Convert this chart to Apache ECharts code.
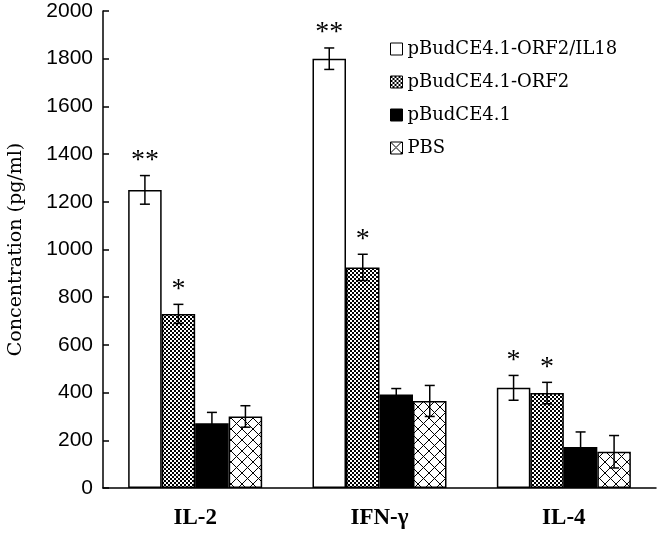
<!DOCTYPE html>
<html>
<head>
<meta charset="utf-8">
<script src="https://cdn.jsdelivr.net/npm/echarts@6/dist/echarts.min.js"></script>
<style>
html,body{margin:0;padding:0;background:#fff;}
#chart{width:660px;height:535px;}
</style>
</head>
<body>
<div id="chart"></div>
<script>
// ---- data ----
var categories = ['IL-2', 'IFN-\u03b3', 'IL-4'];
var seriesNames = ['pBudCE4.1-ORF2/IL18', 'pBudCE4.1-ORF2', 'pBudCE4.1', 'PBS'];
var valuesOrf2Il18 = [1250, 1800, 420];
var valuesOrf2 = [730, 925, 398];
var valuesVector = [272, 392, 172];
var valuesPbs = [300, 365, 152];
var errOrf2Il18 = [60, 45, 52];
var errOrf2 = [40, 55, 45];
var errVector = [45, 25, 63];
var errPbs = [45, 65, 68];
var starsOrf2Il18 = ['**', '**', '*'];
var starsOrf2 = ['*', '*', '*'];
var starsVector = ['', '', ''];
var starsPbs = ['', '', ''];
var yTicks = { min: 0, max: 2000, interval: 200 };

// ---- patterns ----
function checkerPattern() {
  var c = document.createElement('canvas');
  c.width = 4; c.height = 4;
  var g = c.getContext('2d');
  g.fillStyle = '#fff'; g.fillRect(0, 0, 4, 4);
  g.fillStyle = '#000';
  g.fillRect(0, 0, 2, 2);
  g.fillRect(2, 2, 2, 2);
  return c;
}
function crossPattern() {
  var n = 11;
  var c = document.createElement('canvas');
  c.width = n; c.height = n;
  var g = c.getContext('2d');
  g.fillStyle = '#fff'; g.fillRect(0, 0, n, n);
  g.strokeStyle = '#000'; g.lineWidth = 1;
  g.beginPath();
  g.moveTo(0, 0); g.lineTo(n, n);
  g.moveTo(n, 0); g.lineTo(0, n);
  g.stroke();
  return c;
}
var fills = [
  '#ffffff',
  { image: checkerPattern(), repeat: 'repeat' },
  '#000000',
  { image: crossPattern(), repeat: 'repeat' }
];

var allValues = [valuesOrf2Il18, valuesOrf2, valuesVector, valuesPbs];
var allErr = [errOrf2Il18, errOrf2, errVector, errPbs];
var allStars = [starsOrf2Il18, starsOrf2, starsVector, starsPbs];

var GAP = 0.273;
var errData = [];
var errStars = [];
for (var s = 0; s < 4; s++) {
  for (var c = 0; c < categories.length; c++) {
    errData.push([c, s, allValues[s][c], allErr[s][c]]);
    errStars.push(allStars[s][c]);
  }
}

var barSeries = seriesNames.map(function (name, i) {
  return {
    name: name,
    type: 'bar',
    data: allValues[i],
    barGap: '0%',
    barCategoryGap: (GAP * 100) + '%',
    itemStyle: { color: fills[i], borderColor: '#000', borderWidth: 1.5 },
    emphasis: { disabled: true },
    z: 2
  };
});

var errSeries = {
  type: 'custom',
  data: errData,
  encode: { x: 0, y: 2 },
  z: 5,
  silent: true,
  renderItem: function (params, api) {
    var ci = api.value(0), si = api.value(1), v = api.value(2), e = api.value(3);
    var band = api.size([1, 0])[0];
    var bw = band * (1 - GAP) / 4;
    var cx = api.coord([ci, 0])[0] + (si - 1.5) * bw;
    var yTop = api.coord([ci, v + e])[1];
    var yBot = api.coord([ci, v - e])[1];
    var cap = 5;
    var st = { stroke: '#000', lineWidth: 1.5 };
    var children = [
      { type: 'line', shape: { x1: cx, y1: yTop, x2: cx, y2: yBot }, style: st },
      { type: 'line', shape: { x1: cx - cap, y1: yTop, x2: cx + cap, y2: yTop }, style: st },
      { type: 'line', shape: { x1: cx - cap, y1: yBot, x2: cx + cap, y2: yBot }, style: st }
    ];
    var star = errStars[params.dataIndex];
    if (star) {
      children.push({
        type: 'text',
        style: {
          x: cx, y: yTop - 1,
          text: star,
          fill: '#000',
          font: '28px "Liberation Serif"',
          align: 'center',
          verticalAlign: 'bottom'
        }
      });
    }
    return { type: 'group', children: children };
  }
};

var chart = echarts.init(document.getElementById('chart'), null, { renderer: 'canvas' });
chart.setOption({
  backgroundColor: '#ffffff',
  animation: false,
  grid: { left: 103, top: 11, width: 553, height: 477, containLabel: false, outerBoundsMode: 'none' },
  legend: {
    orient: 'vertical',
    left: 385,
    top: 34,
    itemWidth: 12,
    itemHeight: 12,
    itemGap: 13,
    icon: 'rect',
    data: seriesNames,
    selectedMode: false,
    itemStyle: { borderColor: '#000', borderWidth: 1 },
    textStyle: { fontFamily: 'DejaVu Serif', fontSize: 18, color: '#000', lineHeight: 20 }
  },
  xAxis: {
    type: 'category',
    data: categories,
    axisLine: { lineStyle: { color: '#000', width: 1.5 } },
    axisTick: { inside: true, length: 6, interval: 0, lineStyle: { color: '#000', width: 1.5 } },
    axisLabel: { color: '#000', fontFamily: 'Liberation Serif', fontWeight: 'bold', fontSize: 23, margin: 19 },
    splitLine: { show: false }
  },
  yAxis: {
    type: 'value',
    min: yTicks.min,
    max: yTicks.max,
    interval: yTicks.interval,
    name: 'Concentration (pg/ml)',
    nameLocation: 'middle',
    nameGap: 77,
    nameTextStyle: { fontFamily: 'DejaVu Serif', fontSize: 19, color: '#000' },
    axisLine: { show: true, lineStyle: { color: '#000', width: 1.5 } },
    axisTick: { show: true, inside: true, length: 6, lineStyle: { color: '#000', width: 1.5 } },
    axisLabel: {
      color: '#000', fontFamily: 'Liberation Sans', fontSize: 21, margin: 10,
      formatter: function (v) { return String(v); }
    },
    splitLine: { show: false }
  },
  series: barSeries.concat([errSeries])
});
</script>
</body>
</html>
